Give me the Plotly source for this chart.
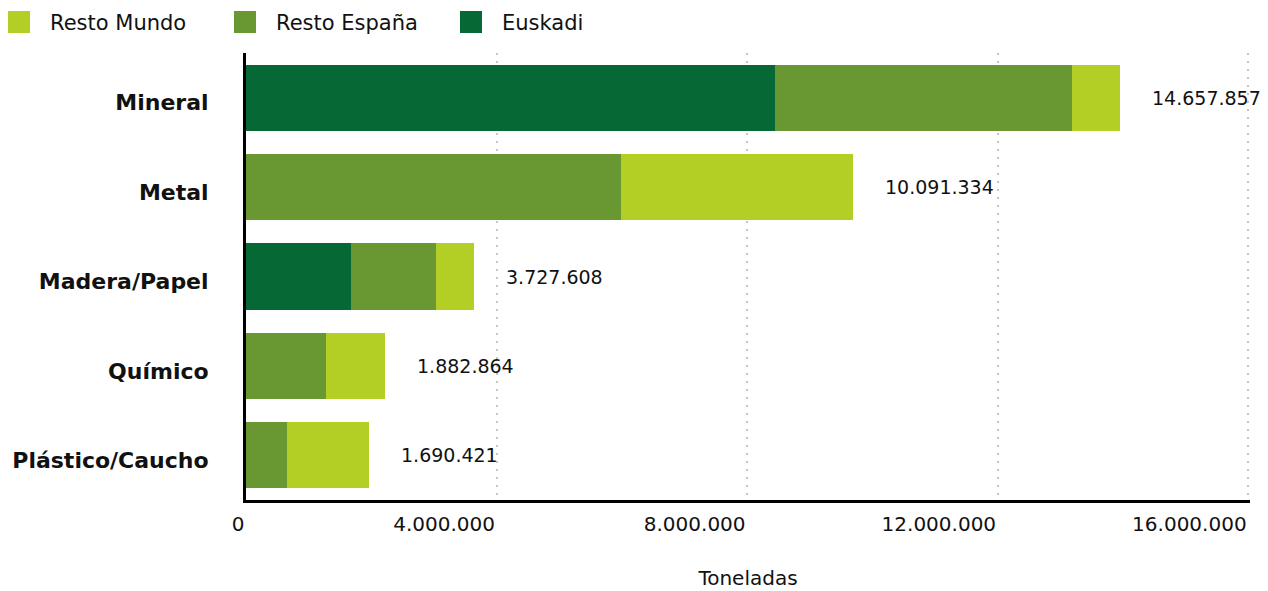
import plotly.graph_objects as go

categorias = ['Mineral', 'Metal', 'Madera/Papel', 'Químico', 'Plástico/Caucho']
euskadi = [8450000, 0, 1680000, 0, 0]
resto_espana = [4740000, 5990000, 1360000, 1280000, 655000]
resto_mundo = [770000, 3700000, 605000, 940000, 1310000]
totales_txt = ['14.657.857', '10.091.334', '3.727.608', '1.882.864', '1.690.421']
tick_vals = [0, 4000000, 8000000, 12000000, 16000000]
tick_txt = ['0', '4.000.000', '8.000.000', '12.000.000', '16.000.000']

COLORS = {'Euskadi': '#066835', 'Resto España': '#699833', 'Resto Mundo': '#b3ce24'}
FONT = 'DejaVu Sans'
TXT = '#111111'
# the page body has an 8px margin, so the figure is drawn 8px in from the window corner
OFF = 8

series = [('Euskadi', euskadi), ('Resto España', resto_espana), ('Resto Mundo', resto_mundo)]

fig = go.Figure()
for name, vals in series:
    fig.add_trace(go.Bar(y=categorias, x=vals, name=name, orientation='h',
        marker=dict(color=COLORS[name], line=dict(width=0)), showlegend=False))

# etiquetas de total al final de cada barra
annotations = []
for i, cat in enumerate(categorias):
    total = euskadi[i] + resto_espana[i] + resto_mundo[i]
    annotations.append(dict(x=total, y=cat, xref='x', yref='y', text=totales_txt[i],
        showarrow=False, xanchor='left', xshift=30, font=dict(size=19, color=TXT, family=FONT)))

# leyenda dibujada a mano (cuadrados grandes)
shapes = []
for j, (name, _) in enumerate(reversed(series)):
    x0 = 8 + 226 * j - 246
    shapes.append(dict(type='rect', xref='paper', yref='paper', xsizemode='pixel', ysizemode='pixel',
        xanchor=0, yanchor=1, x0=x0, x1=x0 + 22, y0=20, y1=42,
        fillcolor=COLORS[name], line=dict(width=0)))
    annotations.append(dict(xref='paper', yref='paper', x=0, y=1, xshift=x0 + 40, yshift=30,
        text=name, showarrow=False, xanchor='left', yanchor='middle',
        font=dict(size=21, color=TXT, family=FONT)))

fig.update_layout(
    width=1268 - OFF, height=591 - OFF,
    margin=dict(l=246 - OFF, r=18, t=53 - OFF, b=91),
    paper_bgcolor='white', plot_bgcolor='white',
    barmode='stack', bargap=0.26,
    font=dict(family=FONT, color=TXT),
    showlegend=False,
    xaxis=dict(range=[0, 16030000], tickvals=tick_vals, ticktext=tick_txt, automargin=False,
        ticklabelposition='outside left', ticklabelstandoff=4,
        tickfont=dict(size=20, color=TXT), showgrid=True, gridcolor='#c4c4c4',
        gridwidth=2, griddash='2px,6px', zeroline=False,
        showline=True, linecolor='black', linewidth=3,
        title=dict(text='Toneladas', font=dict(size=20, color=TXT), standoff=36)),
    yaxis=dict(autorange='reversed', showgrid=False, zeroline=False, automargin=False,
        showline=True, linecolor='black', linewidth=3, ticks='', ticklabelstandoff=30,
        ticklabelshift=-5,
        tickfont=dict(size=22, color=TXT, family=FONT, weight='bold')),
    annotations=annotations, shapes=shapes,
)

fig.write_html('out.html')
